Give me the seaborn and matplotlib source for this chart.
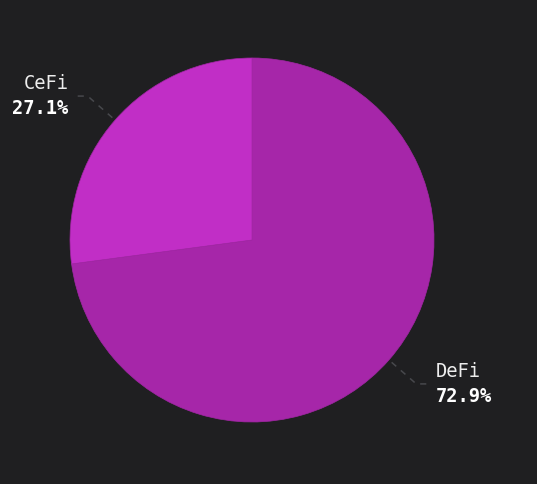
import numpy as np
import seaborn as sns
import matplotlib.pyplot as plt

# chart data
categories = ["DeFi", "CeFi"]
shares = [72.9, 27.1]
slice_colors = ["#A626A9", "#C12EC6"]

BG = "#1F1F21"

sns.set_theme(style="dark", rc={"figure.facecolor": BG, "axes.facecolor": BG})
plt.rcParams['font.family'] = ['DejaVu Sans Mono', 'DejaVu Sans']

fig = plt.figure(figsize=(5.37, 4.84), dpi=100)
ax = fig.add_axes([0, 0, 1, 1])
ax.set_facecolor(BG)

wedges, _ = ax.pie(shares, colors=slice_colors, startangle=90, counterclock=False,
                   radius=1.0, center=(0, 0), frame=True,
                   wedgeprops=dict(edgecolor="#A226A5", linewidth=0.5))

# pixel placement: centre at (252, 240) from top-left, radius 182 px
px = 182.0
ax.set_xlim(-252 / px, (537 - 252) / px)
ax.set_ylim(-(484 - 240) / px, 240 / px)
ax.set_aspect('auto')
ax.axis('off')

# leader lines and labels
for w, name, val in zip(wedges, categories, shares):
    mid = np.deg2rad((w.theta1 + w.theta2) / 2)
    x0, y0 = np.cos(mid), np.sin(mid)
    x1, y1 = 1.2 * x0, 1.2 * y0
    side = 1 if x0 > 0 else -1
    x2 = x1 + side * 0.08
    ax.plot([x0 * 1.02, x1, x2], [y0 * 1.02, y1, y1], color="#47484C", lw=1.1,
            ls=(0, (4, 4)), solid_capstyle='butt')
    ha = 'left' if side > 0 else 'right'
    tx = x2 + side * 0.025
    ax.text(tx, y1 + 0.015, name, ha=ha, va='bottom', color="#EDEDED", fontsize=13.5)
    ax.text(tx, y1 - 0.015, f"{val:.1f}%", ha=ha, va='top', color="#FFFFFF",
            fontsize=13.5, fontweight='bold')

fig.savefig("out.png", dpi=100, facecolor=BG)
